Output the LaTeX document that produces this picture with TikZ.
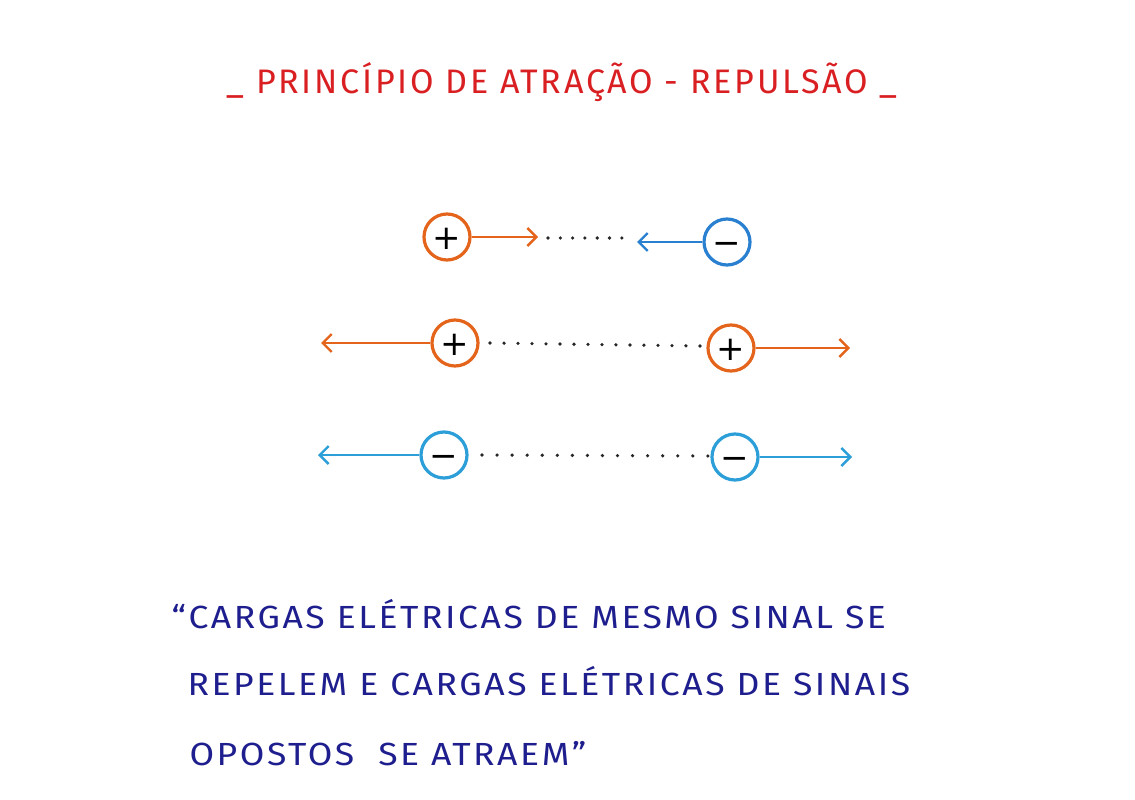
\documentclass[tikz,border=0pt]{standalone}
\usepackage{fontspec}
\setmainfont{Fira Sans}[LetterSpace=8]
\newfontfamily\bodyfont{Fira Sans}[LetterSpace=8, FakeStretch=1.11]
\newfontfamily\signfont{DejaVu Sans}
\usetikzlibrary{arrows.meta}
\definecolor{chorange}{HTML}{E4641C}
\definecolor{chblue}{HTML}{2A80D0}
\definecolor{chlblue}{HTML}{2C9ED8}
\definecolor{titlered}{HTML}{D91F22}
\definecolor{textblue}{HTML}{1E1E8E}
\tikzset{
  charge/.style={circle, draw=#1, line width=3.2pt, minimum size=46pt, inner sep=0pt,
    font=\signfont\fontsize{34}{34}\selectfont, text=black, text height=24.5pt, text depth=0pt},
  force/.style={draw=#1, line width=2.4pt, -{Straight Barb[length=9pt,width=18pt,line width=2.4pt]}},
  dots/.style={line width=3.6pt, line cap=round, dash pattern=on 0pt off 13pt, draw=black!85},
  titletext/.style={text=titlered, font=\fontsize{34}{34}\selectfont, anchor=base},
  body/.style={text=textblue, font=\bodyfont\fontsize{32}{32}\selectfont, anchor=base west}
}
\begin{document}
\begin{tikzpicture}[x=1pt,y=-1pt]
\useasboundingbox[fill=white] (0,0) rectangle (1135,800);
% title
\node[titletext] (title) at (562,93) {\_ PRINCÍPIO DE ATRAÇÃO - REPULSÃO \_};
% row 1: attraction
\node[charge=chorange] (p1) at (447,237) {+};
\node[charge=chblue] (n1) at (727,242) {−};
\coordinate (p1tip) at (538,237);
\coordinate (n1tip) at (637,242);
\draw[force=chorange] (p1.east) -- (p1tip);
\draw[force=chblue] (n1.west) -- (n1tip);
\coordinate (d1a) at (548,238);
\coordinate (d1b) at (622,238);
\draw[dots, dash pattern=on 0pt off 12.3pt] (d1a) -- (d1b);
% row 2: repulsion +,+
\node[charge=chorange] (p2) at (455,343) {+};
\node[charge=chorange] (p3) at (731,348) {+};
\coordinate (p2tip) at (321,343);
\coordinate (p3tip) at (850,348);
\draw[force=chorange] (p2.west) -- (p2tip);
\draw[force=chorange] (p3.east) -- (p3tip);
\coordinate (d2a) at (490,343);
\coordinate (d2b) at (700,346);
\draw[dots, dash pattern=on 0pt off 14pt] (d2a) -- (d2b);
% row 3: repulsion -,-
\node[charge=chlblue] (n2) at (444,455) {−};
\node[charge=chlblue] (n3) at (735,457) {−};
\coordinate (n2tip) at (318,455);
\coordinate (n3tip) at (852,457);
\draw[force=chlblue] (n2.west) -- (n2tip);
\draw[force=chlblue] (n3.east) -- (n3tip);
\coordinate (d3a) at (482,455);
\coordinate (d3b) at (708,456);
\draw[dots, dash pattern=on 0pt off 15.06pt] (d3a) -- (d3b);
% statement
\node[body] (l1) at (168,628) {“CARGAS ELÉTRICAS DE MESMO SINAL SE};
\node[body] (l2) at (184,695) {REPELEM E CARGAS ELÉTRICAS DE SINAIS};
\node[body] (l3) at (186,765) {OPOSTOS \ SE ATRAEM”};
\end{tikzpicture}
\end{document}
